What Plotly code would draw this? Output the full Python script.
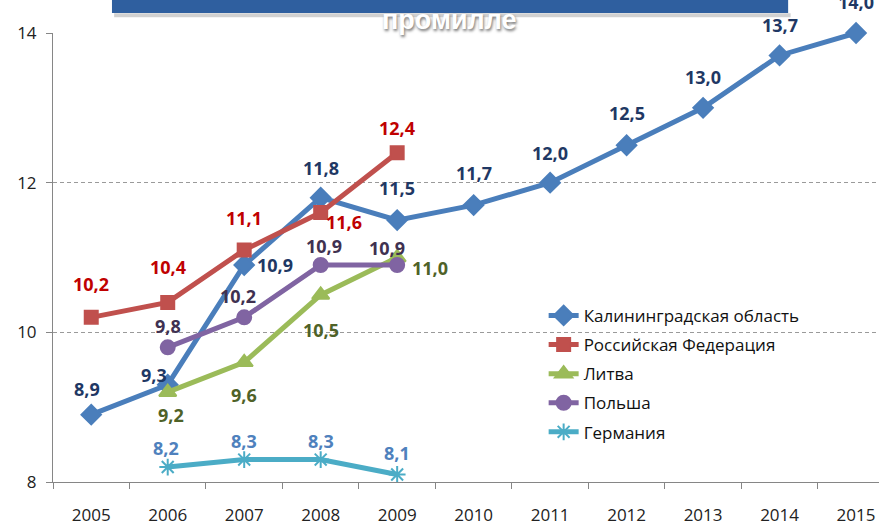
import plotly.graph_objects as go

years = ["2005", "2006", "2007", "2008", "2009", "2010",
         "2011", "2012", "2013", "2014", "2015"]

# промилле
kaliningrad = [8.9, 9.3, 10.9, 11.8, 11.5, 11.7, 12.0, 12.5, 13.0, 13.7, 14.0]
russia = [10.2, 10.4, 11.1, 11.6, 12.4]
lithuania = [9.2, 9.6, 10.5, 11.0]
poland = [9.8, 10.2, 10.9, 10.9]
germany = [8.2, 8.3, 8.3, 8.1]

names = ["Калининградская область", "Российская Федерация", "Литва", "Польша", "Германия"]

# (x values, y values, line colour, label colour, marker symbol, marker size, label offsets)
series = [
    (years, kaliningrad, "#4A7EBB", "#1F3864", "diamond", 15,
     [(-4, 26), (-14, 10), (31, 0), (0, 30), (0, 32), (0, 32),
      (0, 30), (0, 32), (0, 31), (0, 30), (0, 31)]),
    (years[:5], russia, "#C0504D", "#C00000", "square", 13,
     [(0, 33), (0, 35), (0, 32), (23, -9), (0, 25)]),
    (years[1:5], lithuania, "#9BBB59", "#4F6228", "triangle-up", 15,
     [(3, -23), (0, -33), (0, -35), (33, -10)]),
    (years[1:5], poland, "#8064A2", "#3F3151", "circle", 14,
     [(0, 21), (-6, 21), (3, 19), (-10, 17)]),
    (years[1:5], germany, "#4BACC6", "#4F81BD", "asterisk-open", 14,
     [(-2, 19), (0, 19), (0, 19), (0, 22)]),
]

fig = go.Figure()
annotations = []
for i, (xs, ys, col, lab_col, sym, msize, offs) in enumerate(series):
    fig.add_trace(go.Scatter(
        x=xs, y=ys, name=names[i], legendgroup=names[i],
        mode="lines+markers",
        line=dict(color=col, width=5),
        marker=dict(symbol=sym, size=msize, color=col,
                    line=dict(color=col, width=2)),
        cliponaxis=False,
    ))
    for x, y, (dx, dy) in zip(xs, ys, offs):
        annotations.append(dict(
            x=years.index(x), y=y, xref="x", yref="y", showarrow=False,
            text=f"{y:.1f}".replace(".", ","),
            xshift=dx, yshift=dy,
            font=dict(family="Open Sans", size=18, color=lab_col, weight="bold"),
        ))

annotations.append(dict(
    x=0.479, y=1.029, xref="paper", yref="paper", showarrow=False,
    xanchor="center", yanchor="middle",
    text="промилле",
    font=dict(family="Liberation Sans", size=27, color="white", weight="bold",
              shadow="1px 2px 3px rgba(0,0,0,0.55)"),
))

fig.update_layout(
    width=879, height=523,
    margin=dict(l=53, r=0, t=33, b=41, autoexpand=False),
    plot_bgcolor="white", paper_bgcolor="white",
    font=dict(family="Open Sans", size=16, color="#222"),
    showlegend=True,
    legend=dict(x=0.594, y=0.41, xanchor="left", yanchor="top",
                bgcolor="rgba(0,0,0,0)", tracegroupgap=4, itemwidth=30,
                font=dict(family="Open Sans", size=17, color="#111")),
    annotations=annotations,
    shapes=[
        dict(type="rect", xref="paper", yref="paper",
             x0=0.074, x1=0.893, y0=1.035, y1=1.044,
             fillcolor="rgba(0,0,0,0.18)", line=dict(width=0), layer="below"),
        dict(type="rect", xref="paper", yref="paper",
             x0=0.0714, x1=0.890, y0=1.0445, y1=1.08,
             fillcolor="#2F5F9F", line=dict(width=0)),
    ],
)

fig.update_xaxes(
    type="category", categoryorder="array", categoryarray=years,
    range=[-0.5, 10.3], showgrid=False, zeroline=False, automargin=False,
    showline=True, linecolor="#868686", linewidth=1,
    ticks="outside", tickson="boundaries", ticklen=6, tickcolor="#868686",
    ticklabelstandoff=18,
    tickfont=dict(family="Open Sans", size=17, color="#222"),
)
fig.update_yaxes(
    range=[8, 14], tickvals=[8, 10, 12, 14], ticktext=["8", "10", "12", "14"],
    showgrid=True, gridcolor="#9A9A9A", griddash="4px,3px", gridwidth=1,
    zeroline=False, showline=True, linecolor="#868686", linewidth=1,
    automargin=False,
    ticks="outside", ticklen=6, tickcolor="#868686",
    ticklabelstandoff=6,
    tickfont=dict(family="Open Sans", size=17, color="#222"),
)

# drop the default 8px page margin so the figure fills the window
fig.write_html("out.html", config={"displayModeBar": False},
               post_script="document.body.style.margin='0px';")
